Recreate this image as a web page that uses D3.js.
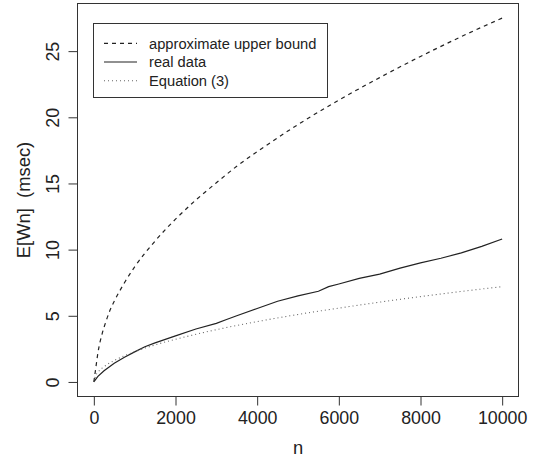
<!DOCTYPE html>
<html>
<head>
<meta charset="utf-8">
<script src="https://cdn.jsdelivr.net/npm/d3@7"></script>
<style>
  body { margin: 0; background: #fff; }
  text { font-family: "Liberation Sans", Arial, Helvetica, sans-serif; fill: #222; }
</style>
</head>
<body>
<svg id="chart"></svg>
<script>
//DATA//
var upperN = [0, 50, 100, 200, 300, 400, 500, 750, 1000, 1500, 2000, 2500, 3000, 3500, 4000, 5000, 6000, 7000, 8000, 9000, 10000];
var upperVals = [0, 1.1, 2.2, 3.6, 4.6, 5.45, 6.1, 7.5, 8.7, 10.65, 12.3, 13.75, 15.05, 16.3, 17.4, 19.45, 21.3, 23.0, 24.6, 26.1, 27.5];

var realN = [0, 100, 250, 500, 750, 1000, 1250, 1500, 2000, 2500, 3000, 3250, 3500, 4000, 4500, 5000, 5500, 5750, 6000, 6500, 7000, 7500, 8000, 8500, 9000, 9500, 10000];
var realVals = [0, 0.42, 0.85, 1.42, 1.87, 2.27, 2.66, 2.95, 3.48, 4.0, 4.43, 4.72, 5.0, 5.55, 6.1, 6.5, 6.85, 7.2, 7.4, 7.83, 8.15, 8.6, 9.0, 9.35, 9.75, 10.25, 10.8];

var eqN = [0, 50, 100, 250, 500, 1000, 1500, 2000, 3000, 4000, 5000, 6000, 7000, 8000, 9000, 10000];
var eqVals = [0, 0.5, 0.74, 1.15, 1.62, 2.28, 2.8, 3.22, 3.95, 4.56, 5.1, 5.58, 6.03, 6.45, 6.84, 7.2];

var xTicks = [0, 2000, 4000, 6000, 8000, 10000];
var yTicks = [0, 5, 10, 15, 20, 25];
var legendLabels = ["approximate upper bound", "real data", "Equation (3)"];

var screen = { width: 535, height: 462 };
var margins = { top: 3.5, bottom: 65.5, left: 77.5, right: 16.5 };
var graph = {
  width: screen.width - margins.left - margins.right,
  height: screen.height - margins.top - margins.bottom
};

var svg = d3.select("#chart").attr("width", screen.width).attr("height", screen.height);

//line styles, same order as legend
var styles = [
  { dash: "4,4", color: "#222", width: 1.2 },
  { dash: null, color: "#222", width: 1.2 },
  { dash: "1,3", color: "#666", width: 1.1 }
];

//zip arrays into points
var zip = function (ns, vs) {
  return ns.map(function (n, i) { return { n: n, v: vs[i] }; });
};
var series = [
  { pts: zip(upperN, upperVals), curve: d3.curveMonotoneX },
  { pts: zip(realN, realVals), curve: d3.curveLinear },
  { pts: zip(eqN, eqVals), curve: d3.curveMonotoneX }
];

//scales with R style 4% padding//
var xExt = d3.extent(upperN.concat(realN, eqN));
var yExt = d3.extent(upperVals.concat(realVals, eqVals));
var xPad = (xExt[1] - xExt[0]) * 0.04;
var yPad = (yExt[1] - yExt[0]) * 0.04;
var xScale = d3.scaleLinear()
  .domain([xExt[0] - xPad, xExt[1] + xPad])
  .range([margins.left, margins.left + graph.width]);
var yScale = d3.scaleLinear()
  .domain([yExt[0] - yPad, yExt[1] + yPad])
  .range([margins.top + graph.height, margins.top]);

//lines//
var lines = svg.append("g").classed("lines", true);
series.forEach(function (s, i) {
  var line = d3.line()
    .x(function (d) { return xScale(d.n); })
    .y(function (d) { return yScale(d.v); })
    .curve(s.curve);
  lines.append("path")
    .attr("d", line(s.pts))
    .attr("fill", "none")
    .attr("stroke", styles[i].color)
    .attr("stroke-width", styles[i].width)
    .attr("stroke-dasharray", styles[i].dash);
});

//box//
svg.append("rect")
  .attr("x", margins.left)
  .attr("y", margins.top)
  .attr("width", graph.width)
  .attr("height", graph.height)
  .attr("fill", "none")
  .attr("stroke", "#333")
  .attr("stroke-width", 1);

//axes//
var xAxis = d3.axisBottom(xScale).tickValues(xTicks).tickSize(9).tickPadding(0).tickFormat(d3.format("d"));
var yAxis = d3.axisLeft(yScale).tickValues(yTicks).tickSize(9).tickFormat(d3.format("d"));

var xg = svg.append("g")
  .attr("transform", "translate(0," + (margins.top + graph.height) + ")")
  .call(xAxis);
xg.select(".domain").attr("d", "M" + xScale(xTicks[0]) + ",0H" + xScale(xTicks[xTicks.length - 1])).attr("stroke", "#333");
xg.selectAll(".tick line").attr("stroke", "#333");
xg.selectAll(".tick text")
  .attr("y", 27.5)
  .attr("dy", null)
  .attr("font-size", 17.8)
  .attr("fill", "#222");

var yg = svg.append("g")
  .attr("transform", "translate(" + margins.left + ",0)")
  .call(yAxis);
yg.select(".domain").attr("d", "M0," + yScale(yTicks[0]) + "V" + yScale(yTicks[yTicks.length - 1])).attr("stroke", "#333");
yg.selectAll(".tick line").attr("stroke", "#333");
yg.selectAll(".tick text")
  .attr("x", null)
  .attr("dy", null)
  .attr("text-anchor", "middle")
  .attr("transform", "translate(-18.2,0) rotate(-90)")
  .attr("font-size", 17.8)
  .attr("fill", "#222");

//axis titles//
svg.append("text")
  .text("n")
  .attr("text-anchor", "middle")
  .attr("x", margins.left + graph.width / 2)
  .attr("y", 454)
  .attr("font-size", 18.4);

svg.append("g")
  .attr("transform", "translate(29.5," + (margins.top + graph.height / 2) + ")")
  .append("text")
  .text("E[Wn]  (msec)")
  .style("white-space", "pre")
  .attr("text-anchor", "middle")
  .attr("transform", "rotate(-90)")
  .attr("font-size", 18.4);

//legend//
var legend = svg.append("g").classed("legend", true);
legend.append("rect")
  .attr("x", 93.5)
  .attr("y", 23.5)
  .attr("width", 234)
  .attr("height", 74)
  .attr("fill", "#fff")
  .attr("stroke", "#333");
legendLabels.forEach(function (label, i) {
  var y = 43.3 + i * 18.7;
  legend.append("line")
    .attr("x1", 104).attr("x2", 137)
    .attr("y1", y).attr("y2", y)
    .attr("stroke", styles[i].color)
    .attr("stroke-width", styles[i].width)
    .attr("stroke-dasharray", styles[i].dash);
  legend.append("text")
    .text(label)
    .attr("x", 149)
    .attr("y", y)
    .attr("dy", "0.36em")
    .attr("font-size", 14.7);
});
</script>
</body>
</html>
